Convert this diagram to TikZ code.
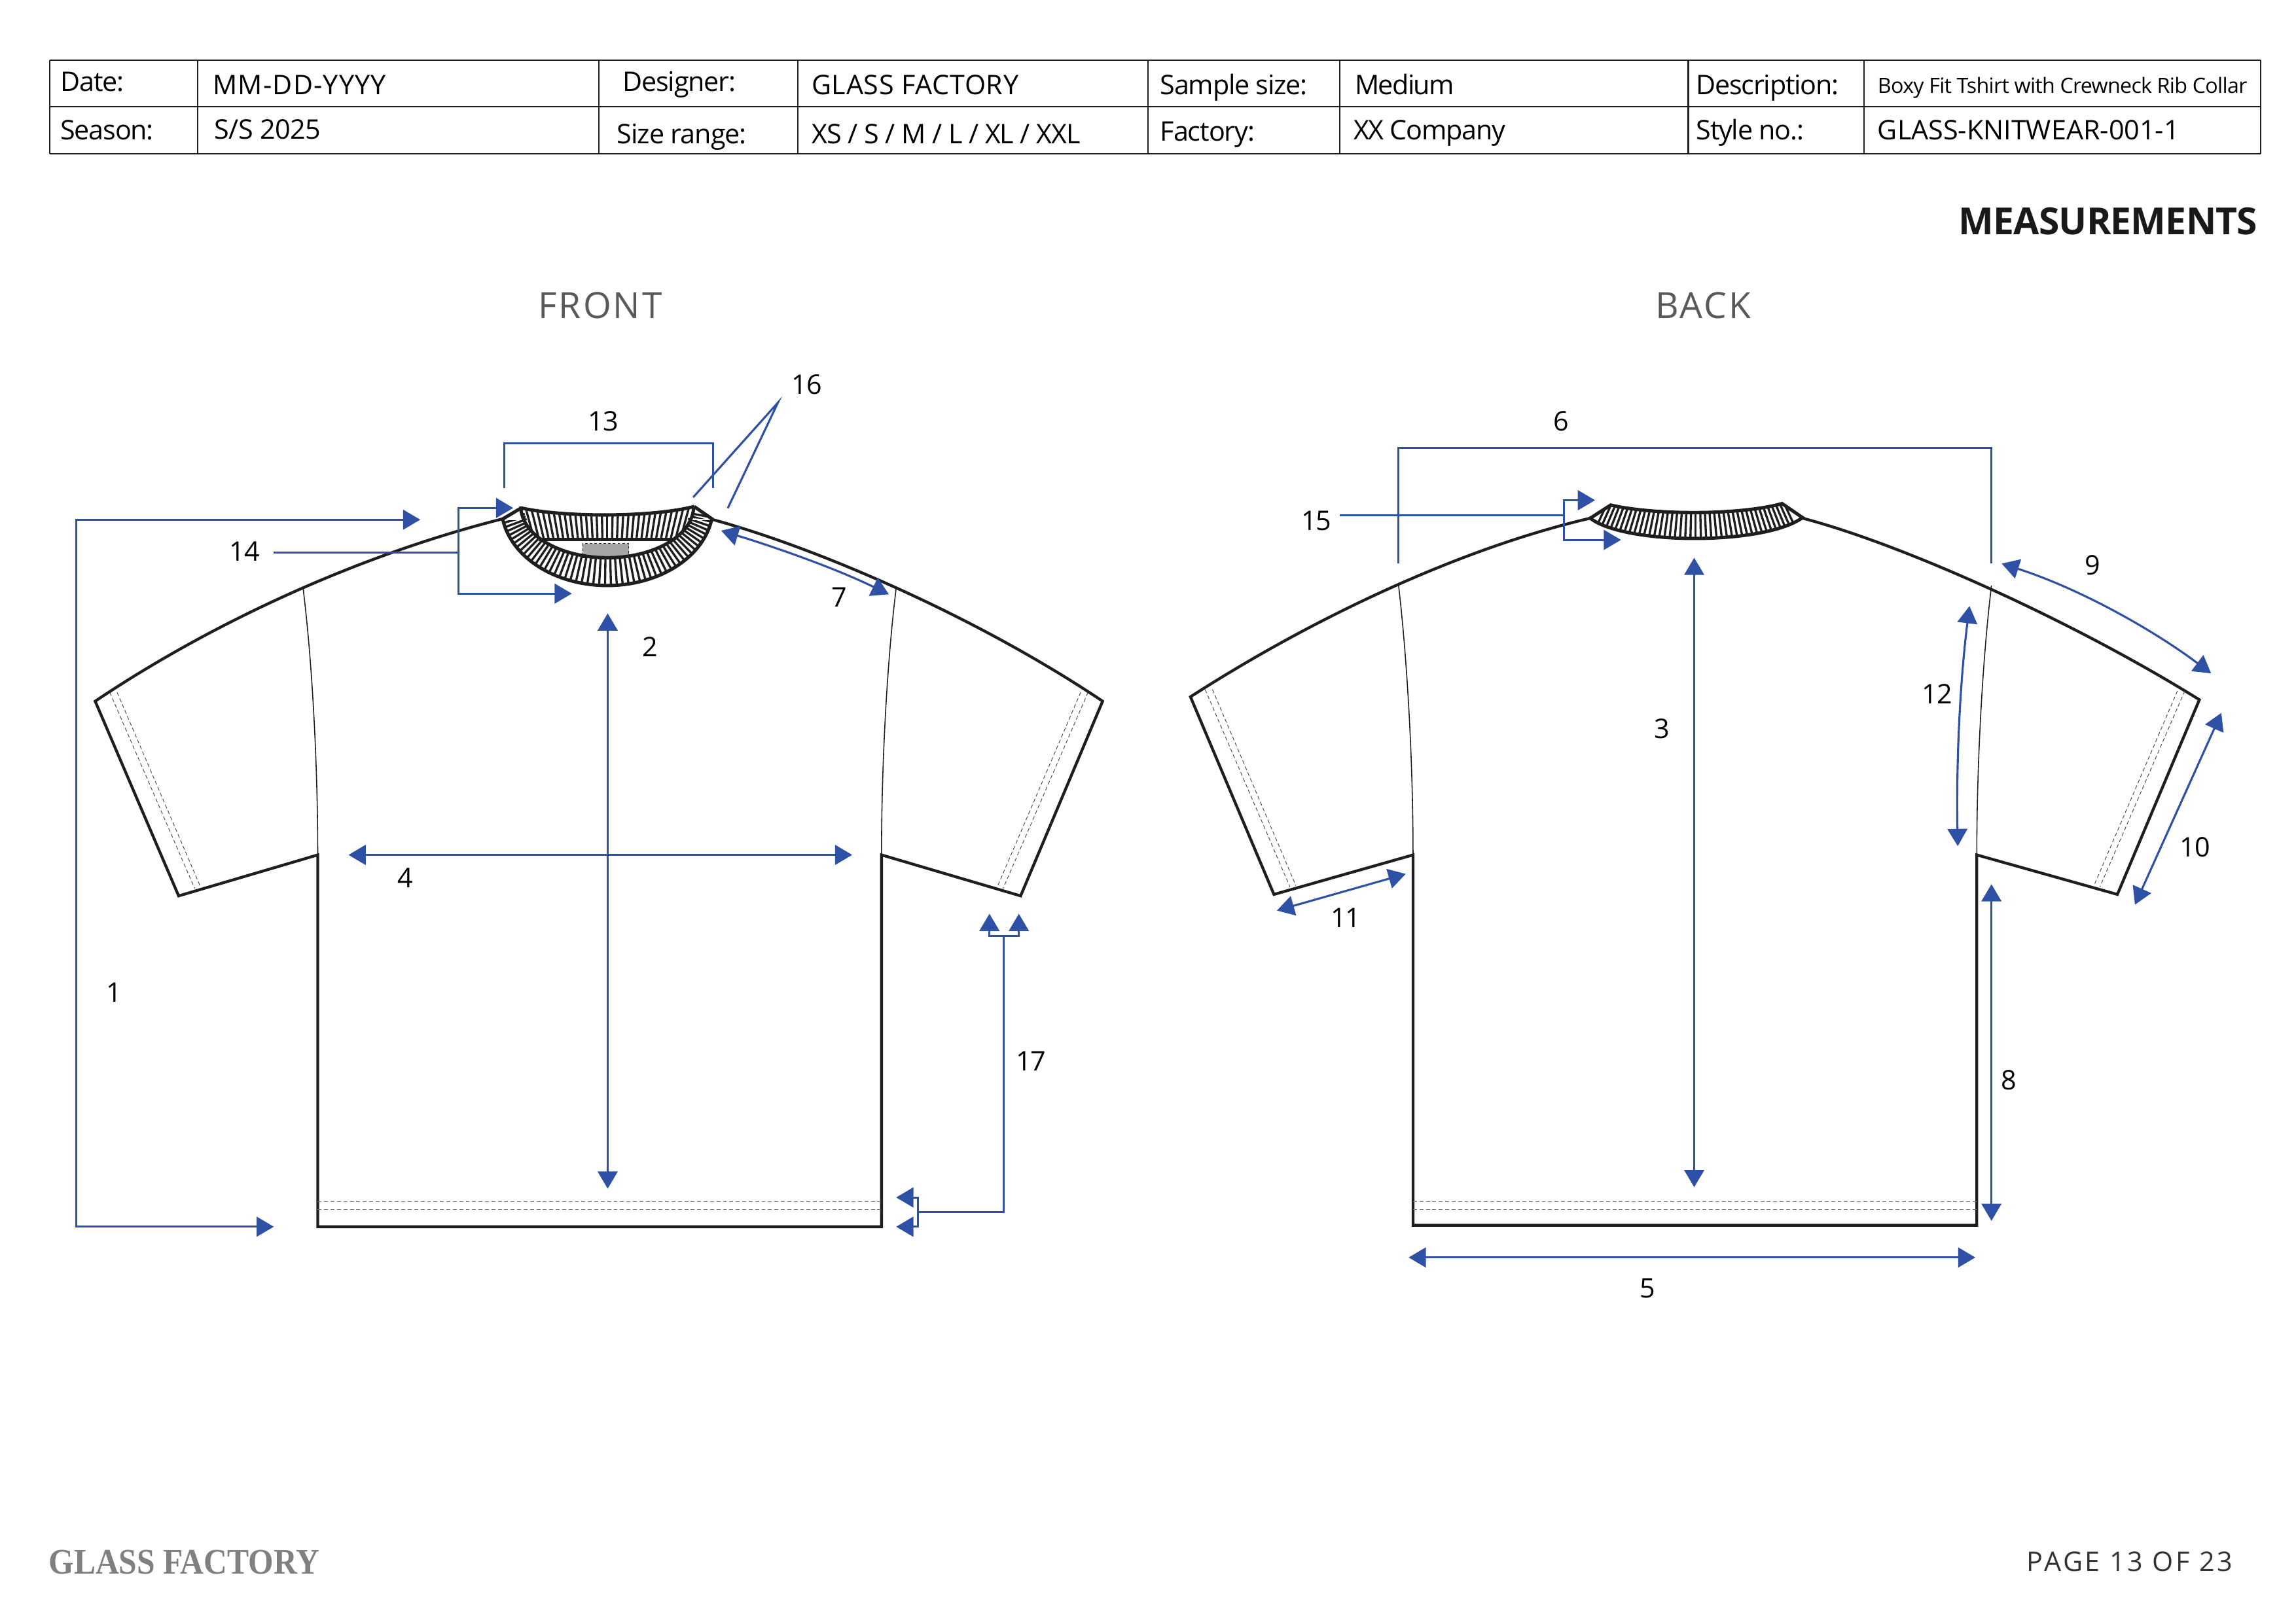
\documentclass[tikz,border=0pt]{standalone}
\usepackage{fontspec}
\setmainfont{Open Sans}
\newfontfamily\logofont[FakeStretch=0.9]{Liberation Serif}
\usetikzlibrary{arrows.meta}
\definecolor{measureblue}{HTML}{2F51A5}
\definecolor{garmentline}{HTML}{1E1E1E}
\tikzset{
    outline/.style={
        draw=garmentline,
        line width=1.1pt,
        line join=miter
    },
    seam/.style={
        draw=garmentline,
        line width=0.4pt
    },
    stitch/.style={
        draw=garmentline!80,
        line width=0.25pt,
        dash pattern=on 1.5pt off 1pt
    },
    rib/.style={
        draw=garmentline,
        line width=0.85pt
    },
    guide/.style={
        draw=measureblue,
        line width=0.8pt
    },
    arrow/.style={
        guide,
        -{Triangle[length=6.7pt, width=7.7pt]}
    },
    doublearrow/.style={
        guide,
        {Triangle[length=6.7pt, width=7.7pt]}-{Triangle[length=6.7pt, width=7.7pt]}
    },
    numlabel/.style={
        font=\fontsize{10.5}{12}\selectfont\addfontfeature{LetterSpace=-3},
        text=black,
        inner sep=0pt,
        yshift=-0.5pt
    },
    celltext/.style={
        anchor=base west,
        text=black,
        inner sep=0pt
    },
    viewtitle/.style={
        font=\fontsize{14}{16}\selectfont\addfontfeature{LetterSpace=5.5},
        text=black!65,
        inner sep=0pt
    }
}
\newcommand{\sleevestitch}[4]{
    \draw [stitch] (#1) -- (#2);
    \draw [stitch] (#3) -- (#4);
}
\newcommand{\hemstitch}[2]{
    \draw [stitch, draw=garmentline!60] (#1, 821) -- (#2, 821);
    \draw [stitch, draw=garmentline!60] (#1, 826) -- (#2, 826);
}
\begin{document}
\begin{tikzpicture}[x=0.02cm, y=-0.02cm]
    \useasboundingbox (0, 0) rectangle (1568, 1109);

    \foreach \x in {34, 135, 409, 545, 784, 915, 1153, 1273, 1544} {
        \draw [garmentline, line width=0.55pt] (\x, 41) -- (\x, 105);
    }
    \foreach \y in {41, 73, 105} {
        \draw [garmentline, line width=0.55pt] (34, \y) -- (1544, \y);
    }
    \foreach \name/\x/\y/\track/\txt in {
        date/41/62.5/-3/{Date:}, dateval/145/64.5/3/{MM-DD-YYYY},
        designer/425/62.5/-3/{Designer:}, designerval/554/64.5/1.7/{GLASS FACTORY},
        sample/792/64.5/-3/{Sample size:}, sampleval/925/64.5/-4/{Medium},
        description/1158/64.5/-3/{Description:},
        season/41/95.5/-3/{Season:}, seasonval/146/95/-1/{S/S 2025},
        range/421/98/-2.5/{Size range:}, rangeval/554/98/-2.5/{XS / S / M / L / XL / XXL},
        factory/792/96.5/-2.5/{Factory:}, factoryval/924/95.5/-3/{XX Company},
        style/1158/95.5/-3/{Style no.:}, styleval/1282/95.5/0/{GLASS-KNITWEAR-001-1}
    } {
        \node [celltext, font=\fontsize{10.5}{12}\selectfont\addfontfeature{LetterSpace=\track}] (\name) at (\x, \y) {\txt};
    }
    \node [celltext, font=\fontsize{8.2}{10}\selectfont\addfontfeature{LetterSpace=-2.2}] (descriptionval) at (1282, 63.5) {Boxy Fit Tshirt with Crewneck Rib Collar};

    \node [anchor=east, inner sep=0pt, text=black!90, font=\fontsize{14.5}{16}\selectfont\bfseries\addfontfeature{LetterSpace=-1.4}] (measurements) at (1542, 151) {MEASUREMENTS};
    \node [viewtitle] (front) at (410, 208.5) {FRONT};
    \node [viewtitle] (back) at (1163, 208.5) {BACK};
    \node [anchor=west, inner sep=0pt, text=black!50, font=\logofont\fontsize{14}{16}\selectfont\bfseries] (logo) at (33, 1067) {GLASS FACTORY};
    \node [anchor=east, inner sep=0pt, text=black!80, font=\fontsize{10.5}{12}\selectfont\addfontfeature{LetterSpace=9}] (page) at (1525, 1067) {PAGE 13 OF 23};

    \draw [outline]
        (343, 354.5) .. controls (250, 378) and (150, 422) .. (65, 479)
        -- (122, 612) -- (217, 584) -- (217, 838) -- (602, 838) -- (602, 584)
        -- (697, 612) -- (753, 479)
        .. controls (668, 422) and (560, 375) .. (487, 355);
    \draw [seam] (207, 402) .. controls (213, 450) and (217, 520) .. (217, 584);
    \draw [seam] (612, 402) .. controls (606, 450) and (602, 520) .. (602, 584);
    \hemstitch{217}{602}
    \sleevestitch{75, 473}{133, 607}{80, 473}{137, 606}
    \sleevestitch{743, 473}{685, 607}{738, 473}{681, 606}

    \draw [fill=black!35, draw=garmentline, line width=0.25pt, dash pattern=on 1pt off 0.8pt] (398, 371.3) rectangle (429.5, 381);

    \begin{scope}
        \clip (342.5, 355) -- (356, 347)
            plot [domain=180:0, samples=40] ({414.7 + 59 * cos(\x)}, {346 + 35 * sin(\x)})
            -- (474, 346) -- (487, 355)
            plot [domain=10:170, samples=40] ({414.7 + 72.3 * cos(\x)}, {346 + 54 * sin(\x)})
            -- cycle;
        \foreach \t in {8, 11.2, ..., 172} {
            \draw [rib] ({414.7 + 57 * cos(\t)}, {346 + 33 * sin(\t)}) -- ({414.7 + 74 * cos(\t)}, {346 + 56 * sin(\t)});
        }
    \end{scope}
    \draw [outline, line width=1.3pt]
        plot [domain=9.6:170.4, samples=60] ({414.7 + 72.3 * cos(\x)}, {346 + 54 * sin(\x)});
    \draw [outline, line width=1.3pt] (342.5, 355) -- (356, 347);
    \draw [outline, line width=1.3pt] (487, 355) -- (474, 346);
    \draw [outline, line width=1.3pt]
        plot [domain=0:180, samples=60] ({414.7 + 59 * cos(\x)}, {346 + 35 * sin(\x)});
    \begin{scope}
        \clip (356, 347) .. controls (385, 353.5) and (445, 353.5) .. (474, 346)
            -- (469, 360) -- (460, 368.4) -- (368, 368.4) -- (361, 360) -- cycle;
        \foreach \i in {-15, ..., 15} {
            \draw [rib] ({414.7 + \i * 3.75}, 345) -- ({414.7 + \i * 3.3}, 370);
        }
    \end{scope}
    \draw [outline, line width=1.3pt] (356, 347) .. controls (385, 353.5) and (445, 353.5) .. (474, 346);
    \draw [outline, line width=1.3pt] (368, 368.4) -- (460, 368.4);

    \draw [outline]
        (1086, 354) .. controls (1000, 374) and (900, 420) .. (813, 476)
        -- (870, 611) -- (965, 584) -- (965, 837) -- (1350, 837) -- (1350, 584)
        -- (1446, 611) -- (1502, 478)
        .. controls (1417, 425) and (1300, 372) .. (1231, 354);
    \draw [seam] (955, 399) .. controls (961, 450) and (965, 520) .. (965, 584);
    \draw [seam] (1360, 400) .. controls (1354, 450) and (1350, 520) .. (1350, 584);
    \hemstitch{965}{1350}
    \sleevestitch{823, 471}{881, 606}{828, 471}{885, 605}
    \sleevestitch{1492, 472}{1434, 606}{1487, 472}{1430, 605}

    \begin{scope}
        \clip (1100, 345) .. controls (1130, 352) and (1188, 352) .. (1217, 344)
            -- (1231, 353.6) .. controls (1205, 372.5) and (1110, 372.5) .. (1086, 354) -- cycle;
        \foreach \i in {-20, ..., 20} {
            \draw [rib] ({1158 + \i * 3}, 343) -- ({1158 + \i * 3.65}, 371);
        }
    \end{scope}
    \draw [outline, line width=1.3pt]
        (1100, 345) .. controls (1130, 352) and (1188, 352) .. (1217, 344)
        -- (1231, 353.6) .. controls (1205, 372.5) and (1110, 372.5) .. (1086, 354) -- cycle;

    \foreach \name/\x/\y in {
        1/78/677, 2/444/441, 3/1135/497, 4/277/599, 5/1125/879, 6/1066/287,
        7/573/407, 8/1372/737, 9/1429/385, 10/1499/578, 11/919/626, 12/1323/473,
        13/412/287, 14/167/376, 15/899/355, 16/551/262, 17/704/724
    } {
        \node [numlabel] (label\name) at (\x, \y) {\name};
    }

    \coordinate (lengthtop) at (287, 355);
    \coordinate (lengthbottom) at (187, 838);
    \draw [doublearrow] (lengthtop) -- (52, 355) -- (52, 838) -- (lengthbottom);

    \coordinate (frontcentertop) at (415, 419);
    \coordinate (frontcenterbottom) at (415, 812);
    \draw [doublearrow] (frontcentertop) -- (frontcenterbottom);

    \coordinate (chestleft) at (238, 584);
    \coordinate (chestright) at (582, 584);
    \draw [doublearrow] (chestleft) -- (chestright);

    \coordinate (shoulderleft) at (492.5, 362.5);
    \coordinate (shoulderright) at (607, 406);
    \draw [doublearrow] (shoulderleft) .. controls (530, 374) and (570, 388) .. (shoulderright);

    \coordinate (necktopleft) at (344.5, 333.5);
    \coordinate (necktopright) at (487, 333.5);
    \draw [guide] (necktopleft) -- (344.5, 303) -- (487, 303) -- (necktopright);

    \coordinate (collarhub) at (531.3, 275);
    \coordinate (collarin) at (473.4, 339.7);
    \coordinate (collarout) at (497, 347.2);
    \draw [guide] (collarin) -- (collarhub) -- (collarout);

    \coordinate (droptail) at (187, 377.5);
    \coordinate (dropfork) at (313, 377.5);
    \coordinate (droptop) at (350.5, 347);
    \coordinate (dropbottom) at (390.5, 405.5);
    \draw [guide] (droptail) -- (dropfork);
    \draw [arrow] (dropfork) -- (313, 347) -- (droptop);
    \draw [arrow] (dropfork) -- (313, 405.5) -- (dropbottom);

    \coordinate (hemforktop) at (685.4, 639.3);
    \coordinate (hemforkbottom) at (627, 828.2);
    \coordinate (hemtopa) at (675.7, 624.2);
    \coordinate (hemtopb) at (695.8, 624.2);
    \coordinate (hembota) at (612, 818);
    \coordinate (hembotb) at (612, 838);
    \draw [guide] (hemforktop) -- (685.4, 828.2) -- (hemforkbottom);
    \draw [arrow] (hemforktop) -- (675.7, 639.3) -- (hemtopa);
    \draw [arrow] (hemforktop) -- (695.8, 639.3) -- (hemtopb);
    \draw [arrow] (hemforkbottom) -- (627, 818) -- (hembota);
    \draw [arrow] (hemforkbottom) -- (627, 838) -- (hembotb);

    \coordinate (backleft) at (955, 385);
    \coordinate (backright) at (1360, 385);
    \draw [guide] (backleft) -- (955, 306) -- (1360, 306) -- (backright);

    \coordinate (backforktail) at (915, 352);
    \coordinate (backforkhub) at (1068, 352);
    \coordinate (backforktop) at (1089.3, 341.7);
    \coordinate (backforkbottom) at (1107, 368.8);
    \draw [guide] (backforktail) -- (backforkhub);
    \draw [arrow] (backforkhub) -- (1068, 341.7) -- (backforktop);
    \draw [arrow] (backforkhub) -- (1068, 368.8) -- (backforkbottom);

    \coordinate (backcentertop) at (1157, 381);
    \coordinate (backcenterbottom) at (1157, 811);
    \draw [doublearrow] (backcentertop) -- (backcenterbottom);

    \coordinate (hemleft) at (962, 859);
    \coordinate (hemright) at (1349, 859);
    \draw [doublearrow] (hemleft) -- (hemright);

    \coordinate (sideseamtop) at (1360, 604);
    \coordinate (sideseambottom) at (1360, 834);
    \draw [doublearrow] (sideseamtop) -- (sideseambottom);

    \coordinate (sleevetopa) at (1367, 385);
    \coordinate (sleevetopb) at (1510, 460);
    \draw [doublearrow] (sleevetopa) .. controls (1420, 402) and (1470, 430) .. (sleevetopb);

    \coordinate (cuffa) at (1517, 487);
    \coordinate (cuffb) at (1458, 618);
    \draw [doublearrow] (cuffa) -- (cuffb);

    \coordinate (undera) at (872, 622);
    \coordinate (underb) at (960, 597);
    \draw [doublearrow] (undera) -- (underb);

    \coordinate (armholetop) at (1345, 414);
    \coordinate (armholebottom) at (1337, 578);
    \draw [doublearrow] (armholetop) .. controls (1338, 470) and (1336, 525) .. (armholebottom);
\end{tikzpicture}
\end{document}
